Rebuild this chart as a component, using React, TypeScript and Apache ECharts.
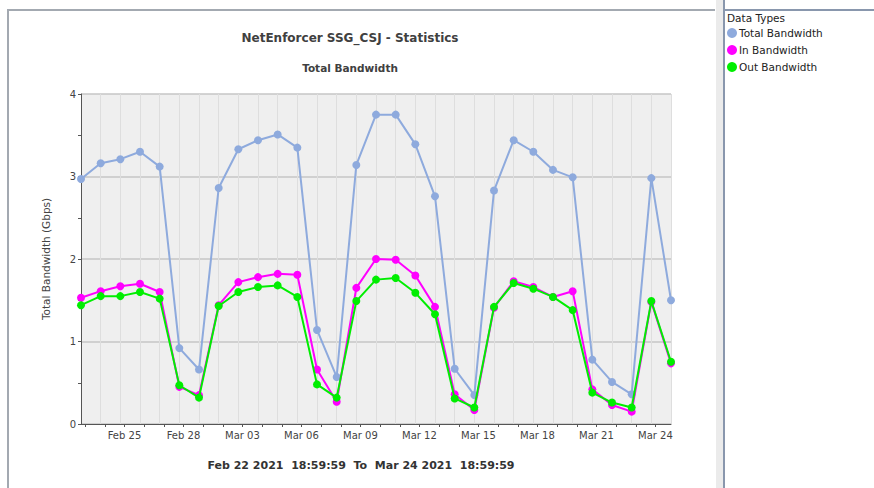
import React, { useEffect, useRef } from "react";
import * as echarts from "echarts";

const dates = [
  "2021-02-22", "2021-02-23", "2021-02-24", "2021-02-25", "2021-02-26", "2021-02-27", "2021-02-28",
  "2021-03-01", "2021-03-02", "2021-03-03", "2021-03-04", "2021-03-05", "2021-03-06", "2021-03-07",
  "2021-03-08", "2021-03-09", "2021-03-10", "2021-03-11", "2021-03-12", "2021-03-13", "2021-03-14",
  "2021-03-15", "2021-03-16", "2021-03-17", "2021-03-18", "2021-03-19", "2021-03-20", "2021-03-21",
  "2021-03-22", "2021-03-23", "2021-03-24",
];

const totalBw = [2.97, 3.16, 3.21, 3.3, 3.12, 0.92, 0.66, 2.86, 3.33, 3.44, 3.51, 3.35, 1.14, 0.57, 3.14, 3.75, 3.75, 3.39, 2.76, 0.67, 0.35, 2.83, 3.44, 3.3, 3.08, 2.99, 0.78, 0.51, 0.36, 2.98, 1.5];
const inBw = [1.53, 1.61, 1.67, 1.7, 1.6, 0.45, 0.35, 1.44, 1.72, 1.78, 1.82, 1.81, 0.66, 0.27, 1.65, 2.0, 1.99, 1.8, 1.42, 0.36, 0.17, 1.41, 1.73, 1.66, 1.54, 1.61, 0.42, 0.23, 0.15, 1.48, 0.735];
const outBw = [1.44, 1.55, 1.55, 1.6, 1.52, 0.47, 0.32, 1.43, 1.6, 1.66, 1.68, 1.54, 0.48, 0.32, 1.49, 1.75, 1.77, 1.59, 1.33, 0.31, 0.2, 1.42, 1.71, 1.64, 1.54, 1.38, 0.38, 0.26, 0.2, 1.49, 0.755];

const tickLabels = [
  { date: "2021-02-25", text: "Feb 25" },
  { date: "2021-02-28", text: "Feb 28" },
  { date: "2021-03-03", text: "Mar 03" },
  { date: "2021-03-06", text: "Mar 06" },
  { date: "2021-03-09", text: "Mar 09" },
  { date: "2021-03-12", text: "Mar 12" },
  { date: "2021-03-15", text: "Mar 15" },
  { date: "2021-03-18", text: "Mar 18" },
  { date: "2021-03-21", text: "Mar 21" },
  { date: "2021-03-24", text: "Mar 24" },
];

const seriesNames = ["Total Bandwidth", "In Bandwidth", "Out Bandwidth"];
const seriesColors = ["#8eaadd", "#ff00ff", "#00ee00"];

const FONT = "DejaVu Sans";
const startMs = Date.parse(dates[0] + "T18:59:59Z");
const endMs = Date.parse(dates[dates.length - 1] + "T18:59:59Z");
const toHours = (ms: number) => (ms - startMs) / 3600000;
const spanHours = toHours(endMs);

const pointX = dates.map((d) => toHours(Date.parse(d + "T18:59:59Z")));
const midnightTicks = dates.slice(1).map((d) => toHours(Date.parse(d + "T00:00:00Z")));
const labelTicks = tickLabels.map((t) => toHours(Date.parse(t.date + "T00:00:00Z")));

function labelFor(v: number): string {
  for (let i = 0; i < labelTicks.length; i++) {
    if (Math.abs(labelTicks[i] - v) < 0.01) return tickLabels[i].text;
  }
  return "";
}

export default function App() {
  const ref = useRef<HTMLDivElement>(null);
  useEffect(() => {
    if (!ref.current) return;
    const chart = echarts.init(ref.current, undefined, { renderer: "svg" });
    const values = [totalBw, inBw, outBw];
    chart.setOption({
      animation: false,
      backgroundColor: "#ffffff",
      textStyle: { fontFamily: FONT },
      grid: {
        left: 81,
        top: 94,
        width: 590,
        height: 330,
        show: true,
        backgroundColor: "#efefef",
        borderWidth: 0,
      },
      legend: {
        orient: "vertical",
        left: 722,
        top: 22,
        icon: "circle",
        itemWidth: 10,
        itemHeight: 10,
        itemGap: 5,
        data: seriesNames,
        textStyle: { fontFamily: FONT, fontSize: 10.5, color: "#222", lineHeight: 12, padding: [0, 0, 0, -3] },
        selectedMode: false,
      },
      xAxis: [
        {
          type: "value",
          min: 0,
          max: spanHours,
          axisLine: { show: true, lineStyle: { color: "#555", width: 1 } },
          axisTick: { show: true, length: 3, customValues: midnightTicks, lineStyle: { color: "#555" } },
          axisLabel: {
            customValues: labelTicks,
            formatter: (v: number) => labelFor(v),
            fontSize: 10,
            color: "#444",
            fontFamily: FONT,
            margin: 6,
          },
          splitLine: { show: false },
        },
        {
          type: "value",
          min: 0,
          max: spanHours,
          interval: 24,
          axisLine: { show: false },
          axisTick: { show: false },
          axisLabel: { show: false },
          splitLine: { show: true, lineStyle: { color: "#dedede", width: 1 } },
        },
      ],
      yAxis: {
        type: "value",
        min: 0,
        max: 4,
        interval: 1,
        name: "Total Bandwidth (Gbps)",
        nameLocation: "middle",
        nameGap: 30,
        nameTextStyle: { fontSize: 10.5, color: "#444", fontFamily: FONT },
        axisLine: { show: true, lineStyle: { color: "#555", width: 1 } },
        axisTick: { show: true, length: 3, lineStyle: { color: "#555" } },
        minorTick: { show: true, splitNumber: 2, length: 3, lineStyle: { color: "#555" } },
        axisLabel: { fontSize: 10, color: "#444", fontFamily: FONT, margin: 5 },
        splitLine: { show: true, lineStyle: { color: "#c6c6c6", width: 1.5 } },
      },
      series: seriesNames.map((name, si) => ({
        name,
        type: "line",
        xAxisIndex: 0,
        data: pointX.map((x, i) => [x, values[si][i]]),
        symbol: "circle",
        symbolSize: 8,
        showSymbol: true,
        itemStyle: { color: seriesColors[si] },
        lineStyle: { color: seriesColors[si], width: 2 },
        z: 2 + si,
      })),
      graphic: [
        { type: "rect", shape: { x: 7, y: 9, width: 708, height: 2 }, style: { fill: "#a3a9b1" }, silent: true },
        { type: "rect", shape: { x: 7, y: 9, width: 2, height: 479 }, style: { fill: "#a3a9b1" }, silent: true },
        { type: "rect", shape: { x: 716, y: 0, width: 7, height: 488 }, style: { fill: "#ebebeb" }, silent: true },
        { type: "rect", shape: { x: 723, y: 0, width: 2, height: 488 }, style: { fill: "#8997ad" }, silent: true },
        { type: "rect", shape: { x: 723, y: 9, width: 151, height: 2 }, style: { fill: "#8997ad" }, silent: true },
        {
          type: "text",
          x: 350,
          y: 38,
          style: { text: "NetEnforcer SSG_CSJ - Statistics", font: `bold 12px "${FONT}"`, fill: "#404040", align: "center", verticalAlign: "middle" },
        },
        {
          type: "text",
          x: 350,
          y: 68,
          style: { text: "Total Bandwidth", font: `bold 10.5px "${FONT}"`, fill: "#404040", align: "center", verticalAlign: "middle" },
        },
        {
          type: "text",
          x: 361,
          y: 465,
          style: { text: "Feb 22 2021  18:59:59  To  Mar 24 2021  18:59:59", font: `bold 11px "${FONT}"`, fill: "#333", align: "center", verticalAlign: "middle" },
        },
        {
          type: "text",
          x: 727,
          y: 18,
          style: { text: "Data Types", font: `10.5px "${FONT}"`, fill: "#222", align: "left", verticalAlign: "middle" },
        },
      ],
    });
    return () => chart.dispose();
  }, []);
  return <div ref={ref} style={{ position: "absolute", left: 0, top: 0, width: 874, height: 488 }} />;
}
